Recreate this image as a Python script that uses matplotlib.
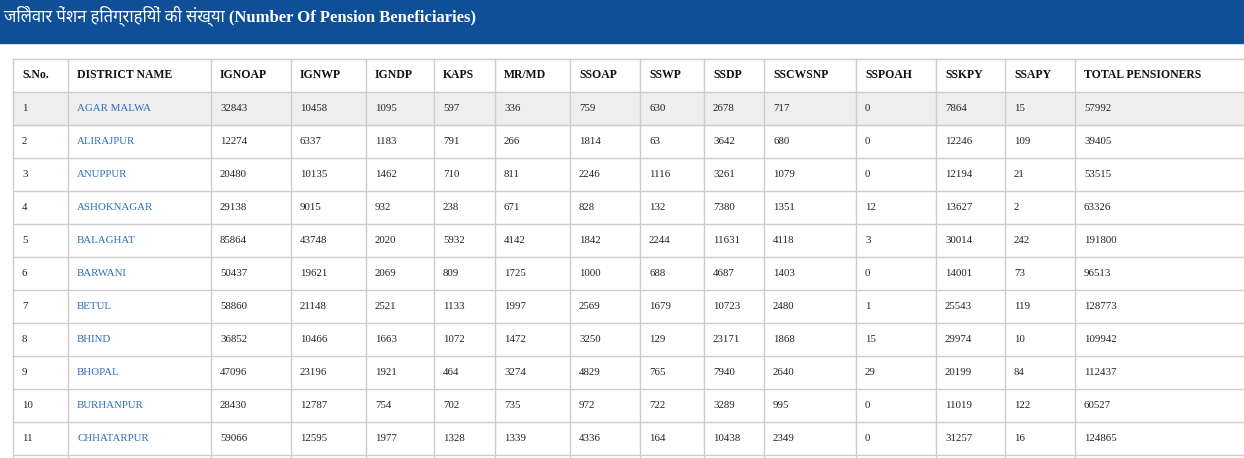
import matplotlib
matplotlib.use("Agg")
import matplotlib.pyplot as plt
from matplotlib.patches import Rectangle

title = "जिलेवार पेंशन हितग्राहियों की संख्या (Number Of Pension Beneficiaries)"
columns = ["S.No.", "DISTRICT NAME", "IGNOAP", "IGNWP", "IGNDP", "KAPS", "MR/MD",
           "SSOAP", "SSWP", "SSDP", "SSCWSNP", "SSPOAH", "SSKPY", "SSAPY",
           "TOTAL PENSIONERS"]
districts = ["AGAR MALWA", "ALIRAJPUR", "ANUPPUR", "ASHOKNAGAR", "BALAGHAT",
             "BARWANI", "BETUL", "BHIND", "BHOPAL", "BURHANPUR", "CHHATARPUR"]
ignoap = [32843, 12274, 20480, 29138, 85864, 50437, 58860, 36852, 47096, 28430, 59066]
ignwp = [10458, 6337, 10135, 9015, 43748, 19621, 21148, 10466, 23196, 12787, 12595]
igndp = [1095, 1183, 1462, 932, 2020, 2069, 2521, 1663, 1921, 754, 1977]
kaps = [597, 791, 710, 238, 5932, 809, 1133, 1072, 464, 702, 1328]
mrmd = [336, 266, 811, 671, 4142, 1725, 1997, 1472, 3274, 735, 1339]
ssoap = [759, 1814, 2246, 828, 1842, 1000, 2569, 3250, 4829, 972, 4336]
sswp = [630, 63, 1116, 132, 2244, 688, 1679, 129, 765, 722, 164]
ssdp = [2678, 3642, 3261, 7380, 11631, 4687, 10723, 23171, 7940, 3289, 10438]
sscwsnp = [717, 680, 1079, 1351, 4118, 1403, 2480, 1868, 2640, 995, 2349]
sspoah = [0, 0, 0, 12, 3, 0, 1, 15, 29, 0, 0]
sskpy = [7864, 12246, 12194, 13627, 30014, 14001, 25543, 29974, 20199, 11019, 31257]
ssapy = [15, 109, 21, 2, 242, 73, 119, 10, 84, 122, 16]
total = [57992, 39405, 53515, 63326, 191800, 96513, 128773, 109942, 112437, 60527, 124865]

col_edges = [13, 68, 211, 291, 366, 434, 495, 570, 640, 704, 764, 856, 936, 1005, 1075, 1244]
header_top, header_bot, row_h = 59, 92, 33
W, H = 1244, 458

fig = plt.figure(figsize=(W / 100, H / 100), dpi=100)
ax = fig.add_axes([0, 0, 1, 1])
ax.set_xlim(0, W)
ax.set_ylim(H, 0)
ax.axis("off")

ax.add_patch(Rectangle((0, 0), W, 43, color="#0f4f98", zorder=0))
ax.text(4, 16, title, color="white", fontsize=12, fontweight="bold", va="center",
        family=["Liberation Serif", "Noto Sans Devanagari", "Noto Sans", "DejaVu Sans"])

serif = "Liberation Serif"
line_c = "#cccccc"
rows = list(zip(range(1, 12), districts, ignoap, ignwp, igndp, kaps, mrmd, ssoap,
                sswp, ssdp, sscwsnp, sspoah, sskpy, ssapy, total))

# striped first row
ax.add_patch(Rectangle((13, header_bot), W - 13, row_h, color="#eeeeee", zorder=0))

for i, name in enumerate(columns):
    ax.text(col_edges[i] + 9, (header_top + header_bot) / 2, name, fontsize=8.5,
            fontweight="bold", family=serif, va="center", color="#111111")

for r, row in enumerate(rows):
    yc = header_bot + row_h * r + row_h / 2
    for i, val in enumerate(row):
        ax.text(col_edges[i] + 9, yc, str(val), fontsize=7.8, family=serif, va="center",
                color="#2a6ebb" if i == 1 else "#222222")

bottom = header_bot + row_h * len(rows)
y = header_top
while y <= bottom:
    ax.plot([13, W], [y, y], color=line_c, lw=1)
    y += (header_bot - header_top) if y == header_top else row_h
for x in col_edges[:-1]:
    ax.plot([x, x], [header_top, H], color=line_c, lw=1)

fig.savefig("out.png", dpi=100)
